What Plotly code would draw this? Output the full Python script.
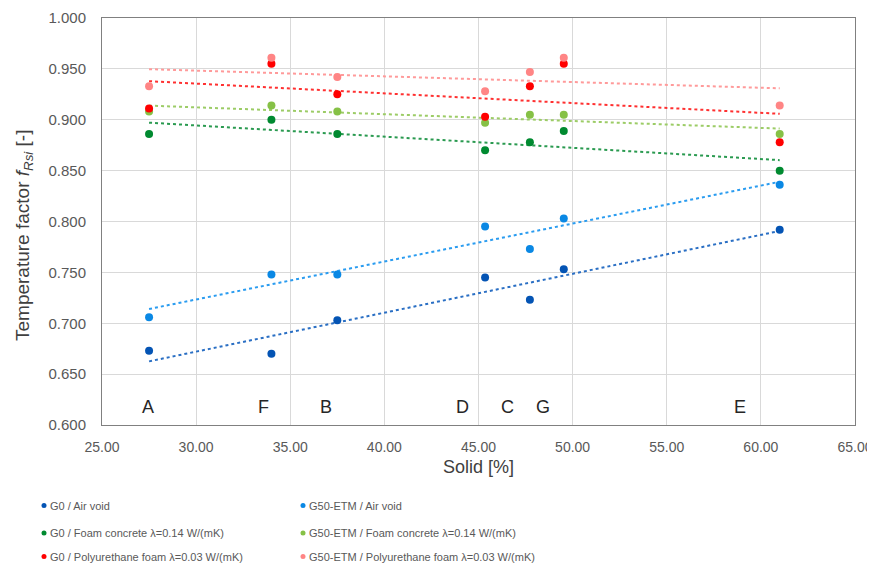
import numpy as np
import plotly.graph_objects as go

solid = [27.5, 34.0, 37.5, 45.35, 47.73, 49.53, 61.0]

g0_air = [0.673, 0.670, 0.703, 0.745, 0.723, 0.753, 0.792]
g50_air = [0.706, 0.748, 0.748, 0.795, 0.773, 0.803, 0.836]
g0_foam = [0.886, 0.900, 0.886, 0.870, 0.878, 0.889, 0.850]
g50_foam = [0.908, 0.914, 0.908, 0.897, 0.905, 0.905, 0.886]
g0_pu = [0.911, 0.955, 0.925, 0.903, 0.933, 0.955, 0.878]
g50_pu = [0.933, 0.961, 0.942, 0.928, 0.947, 0.961, 0.914]

series_names = [
    "G0 / Air void",
    "G50-ETM / Air void",
    "G0 / Foam concrete λ=0.14 W/(mK)",
    "G50-ETM / Foam concrete λ=0.14 W/(mK)",
    "G0 / Polyurethane foam λ=0.03 W/(mK)",
    "G50-ETM / Polyurethane foam λ=0.03 W/(mK)",
]
series_values = [g0_air, g50_air, g0_foam, g50_foam, g0_pu, g50_pu]
colors = ["#0454b4", "#0a88e4", "#008a30", "#86c146", "#ff0000", "#ff8585"]
trend_colors = ["#2a6fc4", "#2a9cf0", "#2a9a50", "#9ccc66", "#ff3030", "#ff9a9a"]

point_labels = ["A", "F", "B", "D", "C", "G", "E"]
label_x = [27.46, 33.56, 36.9, 44.17, 46.56, 48.4, 58.9]
label_y = 0.6177

x_ticks = [25, 30, 35, 40, 45, 50, 55, 60, 65]

# page body has an 8px margin: figure coords = screen coords - 8
OFF = 8
W, H = 875 - OFF, 567 - OFF
ML, MT = 102 - OFF, 18 - OFF
MR = W - (855 - OFF)
MB = H - (425 - OFF)
PW, PH = W - ML - MR, H - MT - MB


def px_to_paper(sx, sy):
    fx, fy = sx - OFF, sy - OFF
    return (fx - ML) / PW, (H - MB - fy) / PH


fig = go.Figure()
xs = np.array(solid)
for name, vals, c, tc in zip(series_names, series_values, colors, trend_colors):
    slope, icpt = np.polyfit(xs, np.array(vals), 1)
    xr = [xs.min(), xs.max()]
    fig.add_trace(go.Scatter(
        x=xr, y=[slope * v + icpt for v in xr], mode="lines",
        line=dict(color=tc, width=2, dash="dot"), showlegend=False, hoverinfo="skip"))
for name, vals, c in zip(series_names, series_values, colors):
    fig.add_trace(go.Scatter(
        x=solid, y=vals, mode="markers", name=name, showlegend=False,
        marker=dict(color=c, size=8)))

for lab, lx in zip(point_labels, label_x):
    fig.add_annotation(x=lx, y=label_y, text=lab, showarrow=False,
                       font=dict(size=18, color="#262626"))

# y-axis title (placed as rotated annotation to match reference position)
yx, yy = px_to_paper(24, 236)
fig.add_annotation(xref="paper", yref="paper", x=yx, y=yy, textangle=-90,
                   text="Temperature factor <i>f</i><sub><i>Rsi</i></sub> [-]",
                   xanchor="center", yanchor="middle", showarrow=False,
                   font=dict(size=19, color="#404040"))

# manual two-column legend
legend_cols = [44, 303]
legend_rows = [505.5, 533, 556.5]
for i, (name, c) in enumerate(zip(series_names, colors)):
    col, row = i % 2, i // 2
    mx, my = px_to_paper(legend_cols[col], legend_rows[row])
    fig.add_shape(type="circle", xref="paper", yref="paper",
                  xsizemode="pixel", ysizemode="pixel", xanchor=mx, yanchor=my,
                  x0=-2.5, x1=2.5, y0=-2.5, y1=2.5,
                  fillcolor=c, line=dict(width=0))
    tx, ty = px_to_paper(legend_cols[col] + 4, legend_rows[row])
    fig.add_annotation(xref="paper", yref="paper", x=tx, y=ty, text=name,
                       xanchor="left", yanchor="middle", showarrow=False,
                       font=dict(family="Liberation Sans, Arial", size=11, color="#595959"))

fig.update_layout(
    width=W, height=H,
    margin=dict(l=ML, r=MR, t=MT, b=MB, autoexpand=False),
    paper_bgcolor="white", plot_bgcolor="white",
    font=dict(family="Liberation Sans, Arial, sans-serif", color="#595959", size=15),
    showlegend=False,
)
fig.update_xaxes(
    range=[25, 65], tickvals=x_ticks, tickformat=".2f", tickfont=dict(size=14),
    showgrid=True, gridcolor="#d9d9d9", gridwidth=1,
    showline=True, linecolor="#808080", linewidth=1, mirror=True,
    ticks="", zeroline=False, ticklabelstandoff=9, automargin=False,
    title=dict(text="Solid [%]", font=dict(size=18, color="#404040"), standoff=6),
)
fig.update_yaxes(
    range=[0.6, 1.0], dtick=0.05, tickformat=".3f",
    showgrid=True, gridcolor="#d9d9d9", gridwidth=1,
    showline=True, linecolor="#808080", linewidth=1, mirror=True,
    ticks="", zeroline=False, ticklabelstandoff=12, automargin=False,
)

fig.write_html("out.html")
